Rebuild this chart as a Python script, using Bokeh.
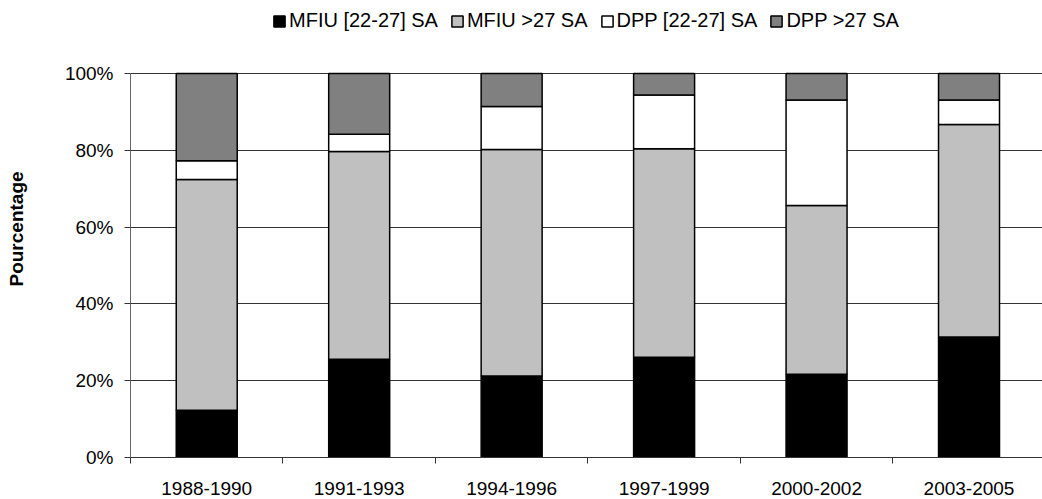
from bokeh.plotting import figure
from bokeh.models import ColumnDataSource, Range1d, FixedTicker, Legend, LegendItem, PrintfTickFormatter
from bokeh.embed import file_html
from bokeh.resources import INLINE

periods = ["1988-1990", "1991-1993", "1994-1996", "1997-1999", "2000-2002", "2003-2005"]
series_names = ["MFIU [22-27] SA", "MFIU >27 SA", "DPP [22-27] SA", "DPP >27 SA"]
mfiu_22_27 = [12.3, 25.6, 21.2, 26.1, 21.7, 31.4]
mfiu_gt27 = [60.1, 54.1, 59.0, 54.3, 43.9, 55.3]
dpp_22_27 = [4.9, 4.5, 11.2, 14.0, 27.5, 6.4]
dpp_gt27 = [22.7, 15.8, 8.6, 5.6, 6.9, 6.9]
y_ticks = [0, 20, 40, 60, 80, 100]

colors = ["#000000", "#C0C0C0", "#FFFFFF", "#808080"]
keys = ["s0", "s1", "s2", "s3"]

xs = [i + 0.5 for i in range(len(periods))]
source = ColumnDataSource(dict(x=xs, s0=mfiu_22_27, s1=mfiu_gt27, s2=dpp_22_27, s3=dpp_gt27))

FONT = "Liberation Sans"

# frame spans the full height above the x axis so the legend (drawn inside it) is not clipped;
# the 0-100 % scale occupies the lower 384 px of the 457 px frame
p = figure(width=1042, height=499, output_backend="svg", toolbar_location=None,
           x_range=Range1d(0, 5.982), y_range=Range1d(0, 119.0),
           min_border_left=130, min_border_right=0, min_border_top=0, min_border_bottom=42)
p.outline_line_color = None
p.background_fill_color = "white"
p.border_fill_color = "white"

rs = p.vbar_stack(keys, x="x", width=0.4, source=source, color=colors,
                  line_color="black", line_width=1.5)

# y axis
p.yaxis.bounds = (0, 100)
p.yaxis.ticker = FixedTicker(ticks=y_ticks)
p.yaxis.formatter = PrintfTickFormatter(format="%d%%")
p.yaxis.major_label_text_font = FONT
p.yaxis.major_label_text_font_size = "19px"
p.yaxis.major_label_text_color = "black"
p.yaxis.major_tick_out = 6
p.yaxis.major_tick_in = 0
p.yaxis.major_tick_line_color = "#333333"
p.yaxis.minor_tick_line_color = None
p.yaxis.axis_line_color = "#666666"
p.yaxis.major_label_standoff = 11
p.yaxis.axis_label = "Pourcentage"
p.yaxis.axis_label_text_font = FONT
p.yaxis.axis_label_text_font_style = "bold"
p.yaxis.axis_label_text_font_size = "19px"
p.yaxis.axis_label_text_color = "black"
p.yaxis.axis_label_standoff = 35

# x axis: labels at centers, ticks at boundaries
p.xaxis.ticker = FixedTicker(ticks=xs, minor_ticks=list(range(len(periods) + 1)))
p.xaxis.major_label_overrides = {x: lab for x, lab in zip(xs, periods)}
p.xaxis.major_tick_out = 0
p.xaxis.major_tick_in = 0
p.xaxis.minor_tick_out = 6
p.xaxis.minor_tick_in = 0
p.xaxis.minor_tick_line_color = "#333333"
p.xaxis.axis_line_color = "#333333"
p.xaxis.major_label_text_font = FONT
p.xaxis.major_label_text_font_size = "19px"
p.xaxis.major_label_text_color = "black"
p.xaxis.major_label_standoff = 18

p.xgrid.grid_line_color = None
p.ygrid.ticker = FixedTicker(ticks=y_ticks)
p.ygrid.grid_line_color = "#333333"
p.ygrid.grid_line_width = 1

legend = Legend(items=[LegendItem(label=n, renderers=[r]) for n, r in zip(series_names, rs)],
                orientation="horizontal", location=(142, 425),
                glyph_width=14, glyph_height=14, label_standoff=3, spacing=12,
                padding=0, margin=0, border_line_color=None, background_fill_alpha=0,
                label_text_font=FONT, label_text_font_size="20px", label_text_color="black")
p.add_layout(legend, "center")

open("out.html", "w").write(file_html(p, INLINE))
